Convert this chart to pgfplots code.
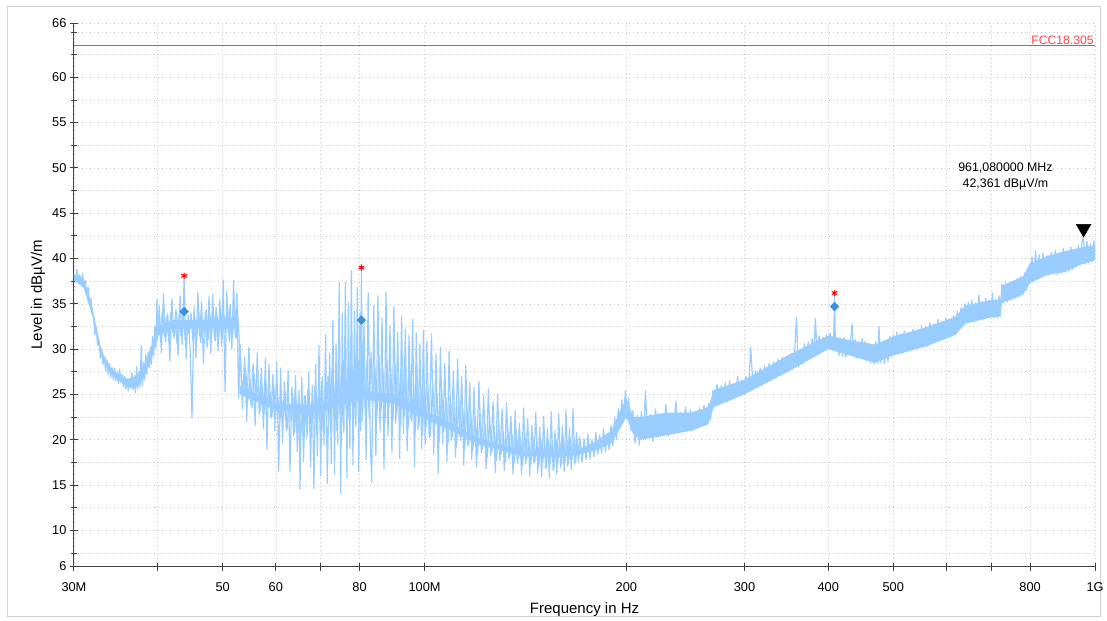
\documentclass[border=0pt]{standalone}
\usepackage{fontspec}
\setmainfont{Liberation Sans}
\usepackage{pgfplots}
\pgfplotsset{compat=1.18}
\usepgfplotslibrary{fillbetween}
\definecolor{trace}{RGB}{153,204,255}
\definecolor{mk}{RGB}{58,145,220}
\definecolor{fccred}{RGB}{245,70,70}
\begin{document}
\begin{tikzpicture}[x=1pt,y=1pt]
\path (0,0) rectangle (1107,619);
\draw[gray!35, line width=1pt] (8,2.5) rectangle (1101,612);
\begin{axis}[
  at={(74pt,52pt)}, anchor=south west,
  scale only axis, width=1022pt, height=544pt,
  xmode=log, xmin=30, xmax=1000, ymin=6, ymax=66,
  axis lines=left, axis line style={-, black!75, line width=0.9pt},
  xtick={30,40,50,60,70,80,100,200,300,400,500,600,700,800,1000},
  xticklabels={30M,,50,60,,80,100M,200,300,400,500,,,800,1G},
  ytick={6,10,15,20,25,30,35,40,45,50,55,60,66},
  minor ytick={7.5,12.5,17.5,22.5,27.5,32.5,37.5,42.5,47.5,52.5,57.5,62.5,65},
  xmajorgrids, ymajorgrids, yminorgrids,
  major grid style={gray!45, dash pattern=on 1pt off 3pt, line width=0.6pt},
  minor grid style={gray!45, dash pattern=on 1pt off 3pt, line width=0.6pt},
  tick align=center, major tick length=8pt, minor tick length=6pt,
  tick style={black!75, line width=0.9pt},
  ticklabel style={font=\fontsize{12.8}{14}\selectfont, text=black},
  /pgf/number format/assume math mode=true,
  xticklabel style={anchor=base, yshift=-21pt},
  xlabel={Frequency in Hz},
  xlabel style={at={(axis description cs:0.5,-0.087)}, anchor=base, font=\fontsize{15}{17}\selectfont},
  ylabel={Level in dBµV/m},
  ylabel style={at={(axis description cs:-0.0352,0.5)}, anchor=center, font=\fontsize{15}{17}\selectfont},
]
% core of the band: upper and lower edges
\addplot[name path=up, draw=none, mark=none, forget plot] coordinates {
(30,38.3)(31,37.6)(32,34.5)(32.5,32)(33,29.8)(34,28)(35,27.2)(36,26.7)(37,27)(38,28)(39,30)(40,32.5)(42,33.2)(46,33.2)(50,33.3)(52.5,33.3)(53,26)(60,24)(70,23.8)(80,25.5)(90,25)(100,23.2)(110,21.8)(120,20.2)(140,18.8)(160,18.7)(170,19)(180,19.8)(190,21)(195,23)(200,24.5)(205,22.5)(210,22.5)(230,23)(250,23)(265,23.6)(270,25.5)(300,26.6)(350,29.4)(400,31.5)(430,31)(470,30.5)(500,31.4)(560,32.4)(620,33.6)(640,34.8)(700,35.4)(722,35.4)(726,37)(780,38)(800,39.5)(850,40.3)(900,40.8)(950,41.2)(1000,41.5)};
\addplot[name path=lo, draw=none, mark=none, forget plot] coordinates {
(30,37.6)(31,36.8)(32,33.5)(32.5,31)(33,29)(34,27.3)(35,26.5)(36,25.8)(37,25.7)(38,26.5)(39,28.5)(40,31.5)(42,32.2)(46,32.2)(50,32.3)(52.5,32.3)(53,25)(60,23.3)(70,23)(80,24.5)(90,24)(100,22.3)(110,21)(120,19.5)(140,18.2)(160,18.1)(170,18.4)(180,18.8)(190,19.6)(195,21)(200,22.5)(205,20.5)(210,20)(230,20.5)(250,21)(265,21.7)(270,23.6)(300,25)(350,27.6)(400,30)(430,29.3)(470,28.5)(500,29.3)(560,30.3)(620,31.6)(640,32.8)(700,33.5)(722,33.6)(726,35.1)(780,36)(800,37.3)(850,38.2)(900,38.5)(950,39.3)(1000,39.8)};
\addplot[trace, draw=none, forget plot] fill between[of=up and lo];
% second sweep of the noisy part (body of the band)
\addplot[trace, line width=1.2pt, line join=round, mark=none, forget plot] coordinates {
(40.35,32.0)(40.65,34.2)(40.95,31.4)(41.25,33.6)(41.55,30.9)(41.85,34.0)(42.15,31.8)(42.45,33.2)(42.75,30.6)(43.05,33.9)(43.35,31.5)(43.65,34.3)(43.95,31.0)(44.25,33.1)(44.55,31.7)(44.85,34.0)(45.15,30.8)(45.45,33.5)(45.75,31.2)(46.05,34.1)(46.35,30.7)(46.65,33.3)(46.95,31.6)(47.25,34.4)(47.55,31.0)(47.85,33.8)(48.15,31.9)(48.45,34.2)(48.75,30.9)(49.05,33.6)(49.35,31.4)(49.65,34.5)(49.95,31.1)(50.25,33.7)(50.55,31.8)(50.85,34.6)(51.15,30.8)(51.45,33.4)(51.75,31.6)(52.05,34.3)(52.35,31.2)(52.65,33.9)
(53.3,27.0)(53.7,25.1)(54.1,27.8)(54.5,24.2)(54.9,26.6)(55.3,23.5)(55.7,27.2)(56.1,24.8)(56.5,26.0)(56.9,23.2)(57.3,25.9)(57.7,22.9)(58.0,26.4)(58.4,23.6)(58.8,25.2)(59.2,22.5)(59.6,25.8)(60.0,23.0)
(60.4,25.0)(60.8,21.8)(61.2,24.6)(61.6,22.4)(62.0,25.3)(62.4,21.2)(62.8,24.0)(63.2,22.0)(63.6,25.1)(64.0,20.8)(64.4,24.4)(64.8,21.9)(65.4,23.8)(65.8,20.5)(66.2,24.9)(66.6,21.6)(67.0,25.6)(67.4,20.9)(67.8,24.2)(68.2,22.3)(68.6,25.9)(69.0,20.6)(69.4,24.7)(69.8,22.1)(70.2,26.4)(70.6,21.0)(71.0,25.2)(71.4,22.6)(71.8,27.0)
(72.4,21.4)(72.8,27.6)(73.2,22.5)(73.6,26.2)(74.0,21.0)(74.4,28.4)(74.8,22.9)(75.2,27.5)(75.6,21.8)(76.0,29.1)(76.4,23.4)(76.8,28.0)(77.2,22.2)(77.6,29.6)(78.0,23.8)(78.4,27.4)(78.8,22.6)(79.2,29.0)(79.6,24.1)(80.0,28.2)(80.65,23.0)(81.0,29.3)
(81.5,23.5)(82.1,28.8)(82.7,22.4)(83.2,29.6)(83.7,23.9)(84.3,28.0)(84.9,22.6)(85.5,29.2)(86.1,23.2)(86.7,27.6)(87.3,21.9)(87.9,28.7)(88.5,23.6)(89.1,27.2)(89.7,22.1)(90.3,28.4)(90.9,22.9)(91.5,26.8)(92.1,21.5)(92.7,27.9)(93.3,22.6)(93.9,26.5)(94.5,21.2)(95.1,27.4)(95.7,22.0)(96.3,26.1)(96.9,20.8)(97.5,26.9)(98.1,21.6)(98.7,25.8)(99.3,20.5)(99.9,26.2)
(100.5,21.3)(101.2,25.6)(102.0,20.4)(102.8,26.3)(103.6,21.6)(104.4,25.0)(105.2,19.8)(106.0,25.7)(106.8,20.9)(107.6,24.6)(108.4,19.6)(109.2,24.9)(110.0,20.3)(110.8,23.9)(111.6,19.2)(112.4,24.4)(113.2,19.9)(114.0,23.5)(114.8,18.9)(115.6,23.8)(116.4,19.5)(117.2,22.9)(118.0,18.8)
(119,22.6)(120,18.4)(121,22.9)(122,18.9)(123,21.8)(124,18.0)(125,22.4)(126,18.6)(127,21.5)(128,17.7)(129,21.9)(130,18.3)(131,20.9)(132,17.6)(133,21.4)(134,18.1)(135,20.6)(136,17.4)(137,20.9)(138,17.9)(139,20.2)(140,17.2)(141,20.7)(142,17.8)(143,19.9)(144,17.1)(145,20.4)(146,17.6)(147,19.8)(148,17.0)(149,20.2)(150,17.5)(151,19.6)(152,16.9)(153,20.0)(154,17.4)(155,19.7)(156,17.0)(157,20.1)(158,17.5)(159,19.8)(160,17.2)(161,20.3)(162,17.6)(163,19.9)(164,17.4)(165,20.2)(166,17.8)(167,19.9)(168,17.5)(169,20.1)(170,17.9)
};
% measured trace
\addplot[trace, line width=1.2pt, line join=round, mark=none] coordinates {
(30.0,38.3)(30.15,37.4)(30.3,38.8)(30.45,37.6)(30.6,38.2)(30.75,37.2)(30.9,38.4)(31.05,37.0)(31.2,37.6)(31.35,36.2)(31.5,36.8)(31.65,35.3)(31.8,35.6)(31.95,34.0)(32.1,33.6)(32.25,31.6)(32.4,32.4)(32.55,30.4)(32.7,31.0)(32.85,29.0)(33.0,30.0)(33.15,28.3)(33.3,29.1)(33.45,27.6)(33.6,28.8)(33.75,27.2)(33.9,28.4)(34.05,26.9)(34.2,28.0)(34.35,26.6)(34.5,27.9)(34.65,26.5)(34.8,27.5)(34.95,26.2)(35.1,27.8)(35.25,26.4)(35.4,27.2)(35.55,25.9)(35.7,27.0)(35.85,25.6)(36.0,26.8)(36.15,25.4)(36.3,26.5)(36.45,25.7)(36.6,27.4)(36.75,25.5)(36.9,27.1)(37.05,25.2)(37.2,28.1)(37.35,25.6)(37.5,27.3)(37.65,25.8)(37.8,30.4)(37.95,26.0)(38.1,28.5)(38.25,26.6)(38.4,29.4)(38.55,27.2)(38.7,29.7)(38.85,28.0)(39.0,30.2)(39.15,28.3)(39.3,31.4)(39.45,29.2)(39.6,32.5)(39.75,30.1)(39.9,35.5)(40.0,31.0)
(40.2,34.8)(40.5,29.6)(40.8,36.1)(41.1,30.8)(41.4,33.9)(41.7,28.7)(42.0,35.6)(42.3,31.2)(42.6,34.4)(42.9,29.3)(43.2,35.9)(43.5,30.5)(43.8,37.9)(44.1,28.9)(44.4,33.8)(44.7,30.1)(45.0,22.4)(45.3,34.7)(45.6,29.0)(45.9,36.3)(46.2,31.5)(46.5,35.2)(46.8,28.4)(47.1,34.1)(47.4,30.2)(47.7,35.8)(48.0,29.5)(48.3,36.0)(48.6,31.0)(48.9,34.6)(49.2,29.8)(49.5,35.5)(49.8,30.4)(50.1,37.6)(50.4,25.3)(50.7,36.4)(51.0,31.8)(51.3,34.9)(51.6,30.0)(51.9,37.6)(52.2,31.3)(52.5,36.2)(52.8,24.6)
(53.1,30.5)(53.5,23.4)(53.9,29.2)(54.3,22.0)(54.7,30.2)(55.1,23.8)(55.5,28.4)(55.9,21.6)(56.3,29.6)(56.7,22.8)(57.1,27.9)(57.5,21.2)(57.9,29.0)(58.2,18.9)(58.6,28.3)(59.0,22.4)(59.4,27.2)(59.8,21.0)(60.2,28.6)
(60.6,16.5)(61.0,27.9)(61.4,19.6)(61.8,26.4)(62.2,21.0)(62.6,27.6)(63.0,16.5)(63.4,25.8)(63.8,20.4)(64.2,27.1)(64.6,18.7)(65.0,25.5)(65.2,14.5)(65.6,26.9)(66.0,17.6)(66.4,24.8)(66.8,20.2)(67.2,27.5)(67.6,17.0)(68.0,26.0)(68.4,14.6)(68.8,28.3)(69.2,18.2)(69.6,30.4)(70.0,16.0)(70.4,26.9)(70.8,19.4)(71.2,31.6)(71.6,15.2)
(72.2,29.5)(72.6,17.4)(73.0,33.2)(73.4,16.2)(73.8,30.6)(74.2,19.5)(74.6,37.3)(75.0,14.1)(75.4,33.9)(75.8,20.8)(76.2,37.4)(76.6,15.8)(77.0,35.1)(77.4,19.0)(77.8,38.7)(78.2,17.2)(78.6,34.2)(79.0,21.4)(79.4,36.8)(79.8,16.5)(80.1,34.0)(80.3,21.0)(80.5,38.6)(80.8,22.0)
(81.2,33.0)(81.8,17.8)(82.4,36.2)(83.0,19.9)(83.4,15.3)(84.0,34.8)(84.6,18.2)(85.2,35.9)(85.8,21.0)(86.4,33.4)(87.0,16.8)(87.6,36.3)(88.2,20.4)(88.8,32.6)(89.4,18.6)(90.0,34.7)(90.6,21.8)(91.2,31.9)(91.8,17.9)(92.4,33.6)(93.0,20.7)(93.6,32.2)(94.2,18.8)(94.8,31.5)(95.4,22.3)(96.0,33.3)(96.6,17.0)(97.2,31.8)(97.8,21.1)(98.4,30.6)(99.0,19.0)(99.6,32.1)(100.2,19.5)
(100.8,30.9)(101.6,20.2)(102.4,31.7)(103.2,18.4)(104.0,29.5)(104.8,16.3)(105.6,30.2)(106.4,19.6)(107.2,28.4)(108.0,17.6)(108.8,29.8)(109.6,19.9)(110.4,27.6)(111.2,18.1)(112.0,28.9)(112.8,20.4)(113.6,27.0)(114.4,17.2)(115.2,28.2)(116.0,19.3)(116.8,26.3)(117.6,17.8)
(118.5,25.8)(119.5,17.0)(120.5,26.4)(121.5,18.6)(122.5,24.9)(123.5,16.8)(124.5,25.6)(125.5,18.2)(126.5,24.2)(127.5,16.4)(128.5,25.0)(129.5,17.7)(130.5,23.4)(131.5,16.6)(132.5,24.1)(133.5,17.9)(134.5,22.6)(135.5,16.2)(136.5,23.2)(137.5,17.4)(138.5,21.8)(139.5,16.1)(140.5,23.5)(141.5,17.3)(142.5,22.3)(143.5,16.0)(144.5,21.6)(145.5,17.5)(146.5,23.0)(147.5,16.3)(148.5,21.4)(149.5,15.9)(150.5,22.6)(151.5,16.8)(152.5,21.2)(153.5,15.8)(154.5,23.1)(155.5,16.6)(156.5,21.0)(157.5,16.2)(158.5,22.9)(159.5,16.9)(160.5,21.5)(161.5,16.5)(162.5,23.3)(163.5,17.1)(164.5,21.3)(165.5,16.7)(166.5,23.4)(167.5,17.3)(168.5,20.8)(169.5,17.6)
(170.5,20.3)(171.7,17.5)(172.9,20.1)(174.1,17.8)(175.3,20.6)(176.5,17.9)(177.7,20.0)(178.9,18.1)(180.1,20.8)(181.3,18.4)(182.5,20.5)(183.7,18.5)(184.9,21.2)(186.1,18.7)(187.3,20.7)(188.5,18.9)(189.7,21.6)(190.9,19.3)(192.1,22.5)(193.3,20.0)(194.5,23.4)(195.7,21.3)(196.9,24.4)(198.1,22.3)(199.3,25.4)(200.5,22.9)
(201.5,24.6)(203,21.0)(204.5,23.2)(206,19.6)(207.5,22.7)(209,19.4)(210.5,23.1)(212,20.0)(213.5,25.4)(215,20.2)(217,22.8)(219,19.8)(221,23.4)(223,20.3)(225,22.6)(227,20.5)(229,23.9)(231,20.4)(233,22.9)(235,20.8)(237,24.2)(239,21.0)(241,23.0)(243,21.1)(245,23.6)(247,21.2)(249,23.3)(251,21.0)(253,22.9)(255,21.3)(257,23.5)(259,21.5)(261,23.8)(263,21.7)(265,24.0)(267,22.2)(269,25.4)(271,23.9)(273,26.1)(275,24.1)(277,26.0)(279,24.3)(281,26.3)(283,24.2)(285,26.5)(287,24.6)(289,26.2)(291,24.8)(293,27.0)(295,24.9)(297,26.6)(299,25.1)
(301.5,27.0)(304,25.3)(306.5,30.2)(309,25.6)(311.5,27.6)(314,25.8)(316.5,27.9)(319,26.0)(321.5,28.2)(324,26.3)(326.5,28.4)(329,26.6)(331.5,28.6)(334,26.8)(336.5,28.9)(339,27.1)(341.5,29.1)(344,27.3)(346.5,29.2)(349,27.6)(351.5,29.5)(354,27.8)(356.5,29.8)(358.5,33.5)(361,28.0)(363.5,30.0)(366,28.3)(368.5,30.6)(371,28.8)(373.5,30.8)(376,29.0)(378.5,31.2)(381,29.3)(382.6,33.4)(385,29.6)(387.5,31.5)(390,29.8)(392.5,31.3)(395,30.1)(397.5,31.6)(400,30.2)(402.5,31.8)(405,30.0)(407.5,31.4)(408.7,35.8)(410,30.0)
(412.5,31.2)(415,29.3)(417.5,31.0)(420,29.2)(422.5,31.3)(425,29.1)(427.5,30.9)(430,29.4)(432.5,31.4)(434,32.8)(436.5,29.2)(439,31.1)(441.5,29.0)(444,30.8)(446.5,29.2)(449,31.2)(451.5,28.9)(454,30.9)(456.5,28.7)(459,30.6)(462,28.5)(465,30.4)(468,28.3)(471,30.8)(474,28.4)(476,32.5)(479,28.5)(482,30.5)(485,28.4)(488,30.7)(491,28.6)(494,31.4)(497,29.2)(500,31.5)(503,29.4)(506,31.9)(509,29.6)(512,31.7)(515,29.5)(519,32.0)(523,29.8)(527,31.8)(531,29.9)(535,32.2)(539,30.0)(543,32.1)(547,30.2)(551,32.6)(555,30.4)(559,32.5)(563,30.3)(567,32.9)(571,30.6)(575,32.8)(579,30.8)(583,33.3)(587,31.0)(591,33.0)(595,31.1)(599,33.4)(603,31.3)(607,33.2)(611,31.4)(615,33.7)(619,31.6)(623,34.2)(627,32.3)(631,34.6)(635,32.6)(639,35.0)(643,33.0)(647,35.2)(651,33.1)(655,35.4)(659,33.0)(663,35.1)(667,33.2)(671,36.0)(675,33.4)(679,35.3)(683,33.3)(687,35.6)(691,33.5)(695,35.4)(699,33.6)(703,36.2)(707,33.5)(711,35.5)(715,33.4)(719,35.9)(722,33.6)(726,37.2)(730,35.1)(735,37.3)(740,35.2)(745,37.0)(750,35.4)(755,37.5)(760,35.6)(765,37.8)(770,35.7)(775,38.0)(780,36.0)(785,38.4)(790,36.5)(795,39.1)(800,37.3)(805,40.2)(810,37.6)(815,40.9)(820,37.9)(825,40.4)(830,38.0)(836,40.6)(842,38.1)(848,40.3)(854,38.2)(860,40.7)(866,38.3)(872,40.9)(878,38.2)(884,40.5)(890,38.4)(896,41.1)(902,38.5)(908,40.8)(914,38.6)(920,41.3)(926,38.8)(932,41.0)(938,39.1)(944,41.5)(950,39.3)(956,41.8)(961.08,42.36)(966,39.4)(972,41.9)(978,39.5)(984,41.6)(990,39.6)(996,42.0)(1000,39.8)
};
% limit line FCC 18.305
\addplot[color=fccred, line width=1pt, mark=none, forget plot] coordinates {(30,63.5) (1000,63.5)};
\node[anchor=south east, text=fccred, inner sep=1.2pt, font=\fontsize{12.2}{14}\selectfont] at (axis cs:1000,63.5) {FCC18.305};
\addplot[only marks, mark=asterisk, color=red, mark size=3.2pt, line width=1.1pt] coordinates {(43.8,38.1) (80.5,39.0) (408.7,36.2)};
\addplot[only marks, mark=square*, color=mk, mark size=3.1pt, mark options={rotate=45}] coordinates {(43.8,34.15) (80.5,33.2) (408.7,34.7)};
\addplot[only marks, mark=triangle*, color=black, mark size=8.5pt, mark options={yshift=8.5pt, rotate=180}] coordinates {(961.08,42.361)};
\node[align=center, font=\fontsize{12.4}{16}\selectfont, text=black] at (axis cs:735,49.1) {961,080000 MHz\\42,361 dBµV/m};
\end{axis}
\end{tikzpicture}
\end{document}
